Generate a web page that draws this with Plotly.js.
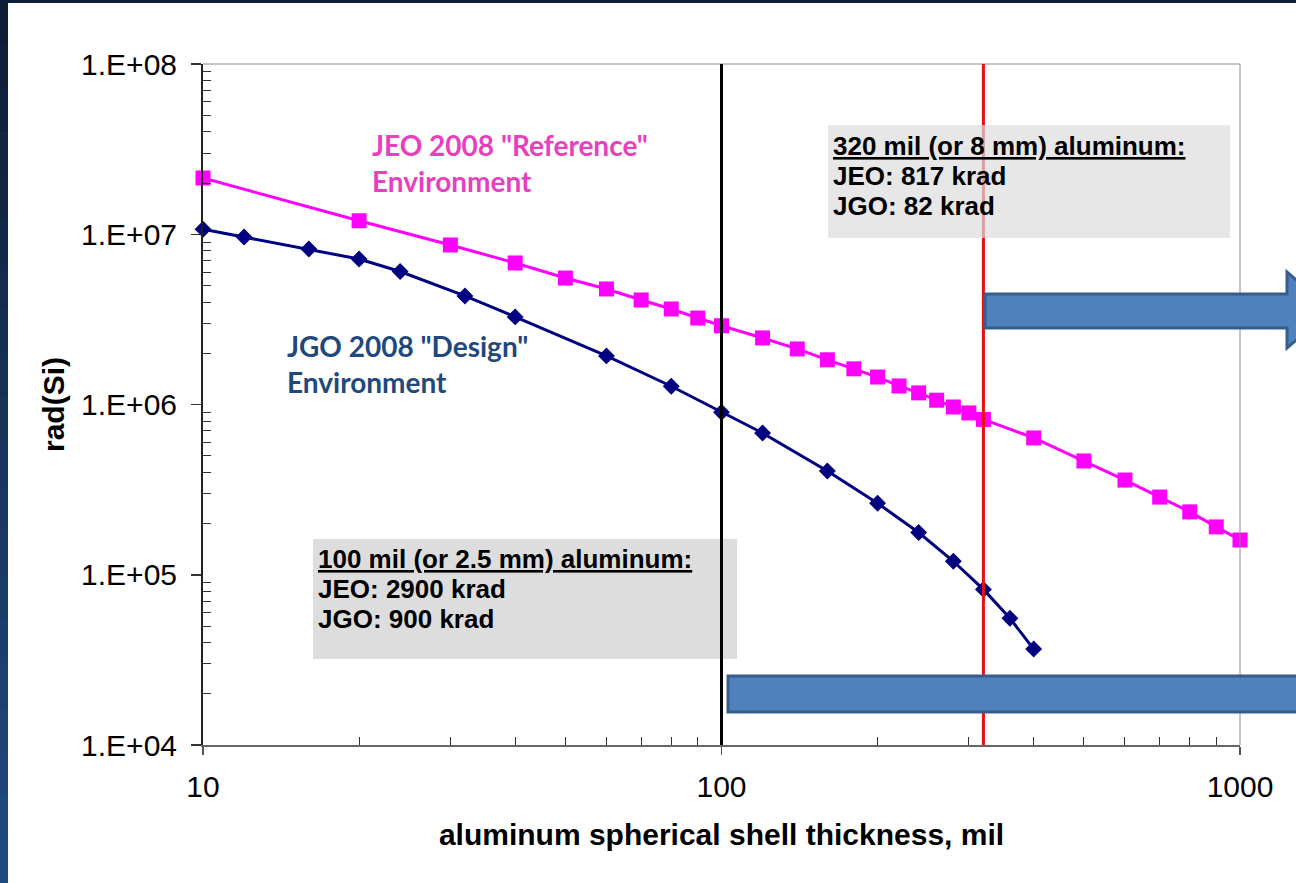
<!DOCTYPE html>
<html><head><meta charset="utf-8">
<script src="https://cdn.plot.ly/plotly-3.0.1.min.js"></script>
<style>html,body{margin:0;padding:0;background:#fff;}#chart{width:1296px;height:883px;}</style>
</head><body><div id="chart"></div>
<script>
// ---- data ----
const jeoThickness = [10,20,30,40,50,60,70,80,90,100,120,140,160,180,200,220,240,260,280,300,320,400,500,600,700,800,900,1000];
const jeoDose = [2.14e7,1.2e7,8.65e6,6.78e6,5.53e6,4.77e6,4.11e6,3.64e6,3.22e6,2.9e6,2.46e6,2.12e6,1.83e6,1.62e6,1.45e6,1.285e6,1.17e6,1.06e6,9.67e5,8.92e5,8.17e5,6.36e5,4.66e5,3.6e5,2.86e5,2.34e5,1.91e5,1.6e5];
const jgoThickness = [10,12,16,20,24,32,40,60,80,100,120,160,200,240,280,320,360,400];
const jgoDose = [1.07e7,9.63e6,8.19e6,7.15e6,6.04e6,4.34e6,3.27e6,1.93e6,1.28e6,9.0e5,6.8e5,4.07e5,2.63e5,1.77e5,1.2e5,8.2e4,5.55e4,3.66e4];
const xTickVals = [10,100,1000];
const xTickText = ["10","100","1000"];
const yTickVals = [1e4,1e5,1e6,1e7,1e8];
const yTickText = ["1.E+04","1.E+05","1.E+06","1.E+07","1.E+08"];
const referenceThickness = [100, 320];
const seriesLabels = ['JEO 2008 "Reference"<br>Environment', 'JGO 2008 "Design"<br>Environment'];
const box100Lines = ['<u>100 mil (or 2.5 mm) aluminum:</u>', 'JEO: 2900 krad', 'JGO: 900 krad'];
const box320Lines = ['<u>320 mil (or 8 mm) aluminum:</u>', 'JEO: 817 krad', 'JGO: 82 krad'];
const xTitle = 'aluminum spherical shell thickness, mil';
const yTitle = 'rad(Si)';

// ---- layout helpers ----
const W = 1296, H = 883, L = 203, R = 1240, T = 64, B = 745;
const px = x => (x - L) / (R - L);
const py = y => (B - y) / (B - T);

function minorVals(decStart, decEnd) {
  const v = [];
  for (let d = decStart; d < decEnd; d++) for (let k = 2; k <= 9; k++) v.push(k * Math.pow(10, d));
  return v;
}

const shapes = [];
// slide background strips
const N = 20;
for (let i = 0; i < N; i++) {
  const t = i / (N - 1);
  const c0 = [14, 30, 54], c1 = [31, 74, 128];
  const c = c0.map((a, j) => Math.round(a + (c1[j] - a) * t));
  shapes.push({type:'rect', xref:'paper', yref:'paper', layer:'below',
    x0: px(0), x1: px(8), y0: py(H * i / N), y1: py(H * (i + 1) / N + 1),
    fillcolor: `rgb(${c.join(',')})`, line:{width:0}});
}
shapes.push({type:'rect', xref:'paper', yref:'paper', layer:'below',
  x0: px(0), x1: px(W), y0: py(3), y1: py(0), fillcolor:'#0e1e36', line:{width:0}});
// plot frame (top/right)
shapes.push({type:'line', xref:'paper', yref:'paper', x0:0, x1:1, y0:1, y1:1, line:{color:'#8c8c8c', width:1}});
shapes.push({type:'line', xref:'paper', yref:'paper', x0:1, x1:1, y0:0, y1:1, line:{color:'#8c8c8c', width:1}});
// gray box for 100 mil
shapes.push({type:'rect', xref:'paper', yref:'paper', x0:px(313), x1:px(737), y0:py(659), y1:py(539),
  fillcolor:'#dddddd', line:{width:0}, layer:'above'});
// vertical reference lines
shapes.push({type:'line', xref:'x', yref:'paper', x0:referenceThickness[0], x1:referenceThickness[0], y0:0, y1:1,
  line:{color:'#000000', width:3}, layer:'above'});
shapes.push({type:'line', xref:'x', yref:'paper', x0:referenceThickness[1], x1:referenceThickness[1], y0:0, y1:1,
  line:{color:'#e81010', width:3}, layer:'above'});
// gray box for 320 mil (semi-transparent over the red line)
shapes.push({type:'rect', xref:'paper', yref:'paper', x0:px(828), x1:px(1230), y0:py(238), y1:py(125),
  fillcolor:'rgba(221,221,221,0.7)', line:{width:0}, layer:'above'});
// arrows
const P = (x, y) => `${px(x)},${py(y)}`;
shapes.push({type:'path', xref:'paper', yref:'paper', layer:'above',
  path:`M ${P(985,294)} L ${P(1287,294)} L ${P(1287,272)} L ${P(1332,310)} L ${P(1287,348)} L ${P(1287,328)} L ${P(985,328)} Z`,
  fillcolor:'#4f81bd', line:{color:'#385d8a', width:3}});
shapes.push({type:'rect', xref:'paper', yref:'paper', layer:'above',
  x0:px(728), x1:px(1330), y0:py(712), y1:py(676), fillcolor:'#4f81bd', line:{color:'#385d8a', width:3}});

const boxFont = {family:'"Liberation Sans", Arial, sans-serif', size:26, color:'#000'};
const annotations = [
  {xref:'paper', yref:'paper', x:px(370), y:py(126), xanchor:'left', yanchor:'top', align:'left', showarrow:false,
   text:'<b>' + seriesLabels[0] + '</b>', font:{family:'Lato, "Open Sans", sans-serif', size:28, color:'#e83fbf'}},
  {xref:'paper', yref:'paper', x:px(285), y:py(327), xanchor:'left', yanchor:'top', align:'left', showarrow:false,
   text:'<b>' + seriesLabels[1] + '</b>', font:{family:'Lato, "Open Sans", sans-serif', size:28, color:'#1f497d'}}
];
const box320Centers = [146, 176, 206];
const box100Centers = [559, 589, 619];
box320Lines.forEach((t, i) => annotations.push({xref:'paper', yref:'paper', x:px(831), y:py(box320Centers[i]),
  xanchor:'left', yanchor:'middle', align:'left', showarrow:false, text:'<b>' + t + '</b>', font:boxFont}));
box100Lines.forEach((t, i) => annotations.push({xref:'paper', yref:'paper', x:px(316), y:py(box100Centers[i]),
  xanchor:'left', yanchor:'middle', align:'left', showarrow:false, text:'<b>' + t + '</b>', font:boxFont}));

const traces = [
  {x: jeoThickness, y: jeoDose, type:'scatter', mode:'lines+markers', name:'JEO 2008 Reference', cliponaxis:false,
   line:{color:'#ff00ff', width:3}, marker:{symbol:'square', size:15, color:'#ff00ff'}},
  {x: jgoThickness, y: jgoDose, type:'scatter', mode:'lines+markers', name:'JGO 2008 Design', cliponaxis:false,
   line:{color:'#000080', width:3}, marker:{symbol:'diamond', size:13, color:'#000080'}}
];

const axisFont = {family:'"Liberation Sans", Arial, sans-serif', size:30, color:'#000'};
const layout = {
  width: W, height: H,
  margin: {l: L, r: W - R, t: T, b: H - B, pad: 0},
  paper_bgcolor: '#ffffff', plot_bgcolor: '#ffffff',
  showlegend: false,
  xaxis: {type:'log', range:[1, 3], tickmode:'array', tickvals:xTickVals, ticktext:xTickText,
    ticks:'outside', ticklen:8, tickwidth:1.5, tickcolor:'#555', showline:true, linecolor:'#666', linewidth:2,
    showgrid:false, zeroline:false, tickfont:axisFont, ticklabelstandoff:6,
    minor:{tickvals:minorVals(1, 3), ticks:'inside', ticklen:8, tickwidth:1, tickcolor:'#333', showgrid:false},
    title:{text:'<b>' + xTitle + '</b>', font:{family:'"Liberation Sans", Arial, sans-serif', size:30, color:'#000'}, standoff:22}},
  yaxis: {type:'log', range:[4, 8], tickmode:'array', tickvals:yTickVals, ticktext:yTickText,
    ticks:'outside', ticklen:10, tickwidth:1.5, tickcolor:'#333', showline:true, linecolor:'#222', linewidth:2,
    showgrid:false, zeroline:false, tickfont:axisFont, ticklabelstandoff:8,
    minor:{tickvals:minorVals(4, 8), ticks:'inside', ticklen:8, tickwidth:1, tickcolor:'#333', showgrid:false},
    title:{text:'<b>' + yTitle + '</b>', font:{family:'"Liberation Sans", Arial, sans-serif', size:30, color:'#000'}, standoff:8}},
  shapes: shapes,
  annotations: annotations
};

Plotly.newPlot('chart', traces, layout, {staticPlot:true, displayModeBar:false});
</script>
</body></html>
